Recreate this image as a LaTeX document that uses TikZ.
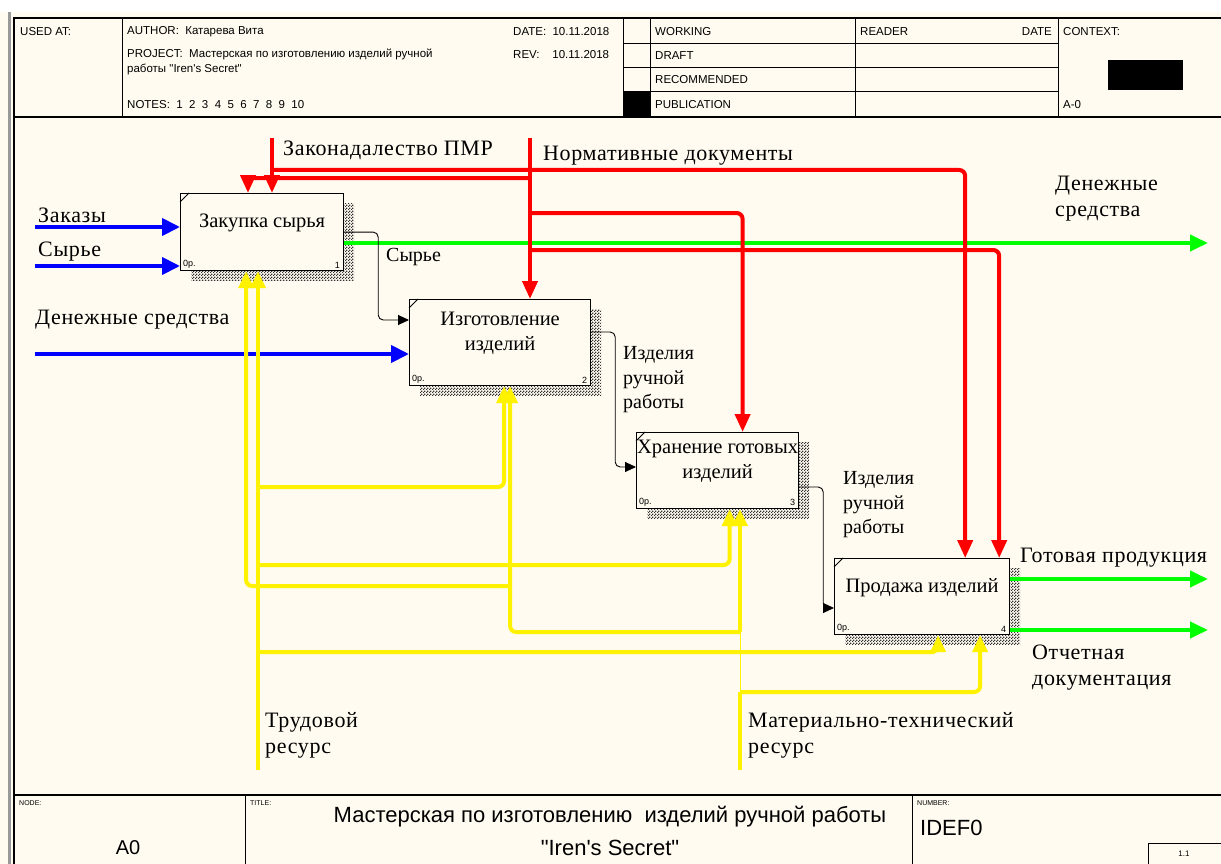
\documentclass[tikz,border=0pt]{standalone}
\usepackage{fontspec}
\setmainfont{Liberation Serif}
\newfontfamily\arialf{Liberation Sans}
\usepackage{tikz}
\usetikzlibrary{arrows.meta,patterns}

\definecolor{paper}{RGB}{255,251,240}

\pgfdeclarepatternformonly{idefcheck}{\pgfpointorigin}{\pgfqpoint{3pt}{3pt}}{\pgfqpoint{3pt}{3pt}}{
    \pgfpathrectangle{\pgfpointorigin}{\pgfqpoint{1.5pt}{1.5pt}}
    \pgfpathrectangle{\pgfqpoint{1.5pt}{1.5pt}}{\pgfqpoint{1.5pt}{1.5pt}}
    \pgfusepath{fill}}

\tikzset{
    ctrl/.style={red, line width=4pt, rounded corners=6pt, -{Triangle[length=18pt,width=15pt]}},
    inp/.style={blue, line width=4pt, -{Triangle[length=18pt,width=17pt]}},
    outp/.style={green, line width=4pt, -{Triangle[length=18pt,width=16pt]}},
    mech/.style={yellow, line width=4pt, rounded corners=6pt, -{Triangle[length=17pt,width=15pt]}},
    mechline/.style={yellow, line width=4pt, rounded corners=6pt},
    flow/.style={black, line width=0.9pt, rounded corners=5pt, -{Triangle[length=11pt,width=10pt]}},
    funcbox/.style={draw, line width=1.2pt, fill=paper, anchor=north west, inner sep=0},
    boxshadow/.style={pattern=idefcheck, pattern color=black!80},
    boxtxt/.style={font=\fontsize{20.5}{25}\selectfont, align=center},
    corner/.style={font=\arialf\fontsize{9}{10}\selectfont, inner sep=0},
    lbl/.style={font=\fontsize{22}{26}\selectfont\addfontfeatures{LetterSpace=3}, align=left, anchor=west, inner sep=0},
    slbl/.style={font=\fontsize{20}{24.5}\selectfont, align=left, anchor=west, inner sep=0},
    hdr/.style={font=\arialf\fontsize{11.5}{15}\selectfont, anchor=west, inner sep=0, align=left},
    tiny/.style={font=\arialf\fontsize{7}{8}\selectfont, anchor=north west, inner sep=0},
}

\begin{document}
\begin{tikzpicture}[x=1pt, y=-1pt]

    \useasboundingbox (0,0) rectangle (1221,864);
    \fill[white] (0,0) rectangle (1221,12);
    \fill[paper] (0,12) rectangle (1221,864);
    \fill[black!40] (8,12) rectangle (11,864);

    \draw[line width=1.3pt] (14,864) -- (14,18) -- (1221,18);
    \draw[line width=1.3pt] (14,117) -- (1221,117);
    \draw[line width=1.3pt] (14,795) -- (1221,795);
    \foreach \cx in {122,623,650,855,1058}
        \draw[line width=1pt] (\cx,18) -- (\cx,117);
    \foreach \ry in {44,68,92}
        \draw[line width=1pt] (623,\ry) -- (1058,\ry);
    \fill (623,92) rectangle (650,117);
    \fill (1108,60) rectangle (1183,90);
    \foreach \cx in {245,912}
        \draw[line width=1pt] (\cx,795) -- (\cx,864);
    \draw[line width=1pt] (1148,864) -- (1148,843) -- (1221,843);

    \node[hdr] (usedat) at (20,32) {USED AT:};
    \node[hdr] (author) at (127,32) {AUTHOR:\ \ Катарева Вита};
    \node[hdr] (project) at (127,62) {PROJECT:\ \ Мастерская по изготовлению изделий ручной\\работы "Iren's Secret"};
    \node[hdr] (notes) at (127,105) {NOTES:\ \ 1\ \ 2\ \ 3\ \ 4\ \ 5\ \ 6\ \ 7\ \ 8\ \ 9\ \ 10};
    \node[hdr] (date) at (513,32) {DATE:\ \ 10.11.2018};
    \node[hdr] (rev) at (513,55) {REV:\ \ \ \ 10.11.2018};
    \node[hdr] (working) at (655,32) {WORKING};
    \node[hdr] (draft) at (655,56) {DRAFT};
    \node[hdr] (recom) at (655,80) {RECOMMENDED};
    \node[hdr] (public) at (655,105) {PUBLICATION};
    \node[hdr] (reader) at (860,32) {READER};
    \node[hdr, anchor=east] (rdate) at (1052,32) {DATE};
    \node[hdr] (context) at (1063,32) {CONTEXT:};
    \node[hdr] (ctxnode) at (1063,105) {A-0};

    \node[tiny] (nodehd) at (19,800) {NODE:};
    \node[tiny] (titlehd) at (250,800) {TITLE:};
    \node[tiny] (numhd) at (917,800) {NUMBER:};
    \node[font=\arialf\fontsize{20}{24}\selectfont] (nodeno) at (128,848) {A0};
    \node[font=\arialf\fontsize{22}{33}\selectfont, align=center] (title) at (610,831) {Мастерская по изготовлению\ \ изделий ручной работы\\"Iren's Secret"};
    \node[font=\arialf\fontsize{22}{24}\selectfont, anchor=west, inner sep=0] (idef) at (920,828) {IDEF0};
    \node[font=\arialf\fontsize{8}{9}\selectfont] (pageno) at (1184,854) {1.1};

    \foreach \n/\x/\y/\w/\h/\txt in {
        1/180/193/163/77/{Закупка сырья},
        2/409/299/181/86/{Изготовление\\изделий},
        3/636/432/162/76/{Хранение готовых\\изделий},
        4/834/558/175/76/{Продажа изделий}}
    {
        \fill[boxshadow] (\x+11,\y+10) rectangle ++(\w,\h);
        \node[funcbox, minimum width=\w, minimum height=\h] (b\n) at (\x,\y) {};
        \draw[line width=0.8pt] ([yshift=-9pt]b\n.north west) -- ([xshift=9pt]b\n.north west);
        \node[corner, anchor=south west] at ([xshift=3pt,yshift=3pt]b\n.south west) {0р.};
        \node[corner, anchor=south east] at ([xshift=-4pt,yshift=3pt]b\n.south east) {\n};
        \node[boxtxt] at ([yshift=9pt]b\n.center) {\txt};
    }

    \coordinate (zakaz) at (35,227);
    \coordinate (syrin) at (35,266);
    \coordinate (denin) at (35,354);
    \coordinate (denout) at (1208,243);
    \coordinate (gotov) at (1208,579);
    \coordinate (otch) at (1208,630);
    \coordinate (zakon) at (272,138);
    \coordinate (zakonj) at (272,170);
    \coordinate (norm) at (530,138);
    \coordinate (normj1) at (530,178);
    \coordinate (normj2) at (530,213);
    \coordinate (normj3) at (530,250);
    \coordinate (trud) at (258,770);
    \coordinate (trudj1) at (258,487);
    \coordinate (trudj2) at (258,565);
    \coordinate (trudj3) at (258,652);
    \coordinate (mat) at (740,770);
    \coordinate (matj1) at (740,692);
    \coordinate (matj2) at (740,632);
    \coordinate (matj3) at (509,586);

    \draw [inp] (zakaz) -- (zakaz -| b1.west);
    \draw [inp] (syrin) -- (syrin -| b1.west);
    \draw [inp] (denin) -- (denin -| b2.west);

    \draw [outp] (b1.east |- denout) -- (denout);
    \draw [outp] (b4.east |- gotov) -- (gotov);
    \draw [outp] (b4.east |- otch) -- (otch);

    \draw [mech] (trud) -- (trud |- b1.south);
    \draw [mech] (trudj1) -| ([xshift=4pt]b2.south);
    \draw [mech] (trudj2) -| ([xshift=12pt]b3.south);
    \draw [mech] (trudj3) -| ([xshift=16pt]b4.south);
    \draw [mechline] (mat) -- (matj1);
    \draw [yellow, line width=1pt] (matj1) -- (matj2);
    \draw [mech] (matj2) -- (matj2 |- b3.south);
    \draw [mech] (matj1) -| ([xshift=58pt]b4.south);
    \draw [mech] (matj2) -| ([xshift=10pt]b2.south);
    \draw [mech] (matj3) -| ([xshift=-16pt]b1.south);

    \draw [ctrl] (zakon) -- (zakon |- b1.north);
    \draw [ctrl] (zakonj) -| ([xshift=-45pt]b4.north east);
    \draw [ctrl] (norm) -- (norm |- b2.north);
    \draw [ctrl] (normj1) -| ([xshift=68pt]b1.north west);
    \draw [ctrl] (normj2) -| ([xshift=25pt]b3.north);
    \draw [ctrl] (normj3) -| ([xshift=-11pt]b4.north east);

    \draw [flow] (b1.east) -- ++(34,0) |- ([yshift=-21pt]b2.north west);
    \draw [flow] ([yshift=-33pt]b2.north east) -- ++(24,0) |- ([yshift=-35pt]b3.north west);
    \draw [flow] ([yshift=-55pt]b3.north east) -- ++(24,0) |- ([yshift=-50pt]b4.north west);

    \node[lbl] (lzakon) at (283,150) {Законадалество ПМР};
    \node[lbl] (lnorm) at (543,156) {Нормативные документы};
    \node[lbl] (lzakaz) at (38,215) {Заказы};
    \node[lbl] (lsyrin) at (38,252) {Сырье};
    \node[lbl] (ldenin) at (35,320) {Денежные средства};
    \node[lbl] (ldenout) at (1055,199) {Денежные\\средства};
    \node[lbl] (lgotov) at (1020,558) {Готовая продукция};
    \node[lbl] (lotch) at (1032,668) {Отчетная\\документация};
    \node[lbl] (ltrud) at (265,735) {Трудовой\\ресурс};
    \node[lbl] (lmat) at (748,735) {Материально-технический\\ресурс};
    \node[slbl] (lsyr) at (386,257) {Сырье};
    \node[slbl] (lizd1) at (623,380) {Изделия\\ручной\\работы};
    \node[slbl] (lizd2) at (843,505) {Изделия\\ручной\\работы};

\end{tikzpicture}
\end{document}
